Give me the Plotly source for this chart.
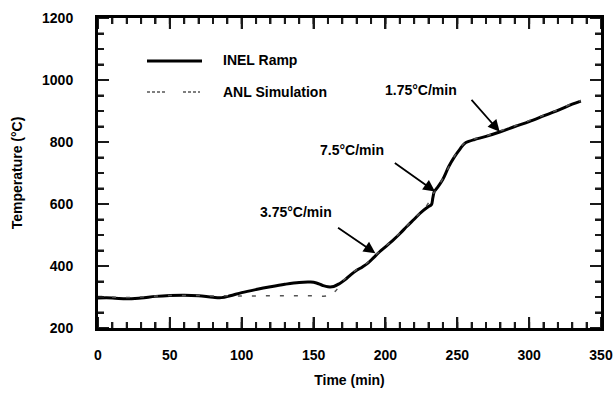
import plotly.graph_objects as go

# INEL ramp measurement (time in min, temperature in °C)
inel_time = [0, 10, 20, 30, 40, 50, 60, 70, 80, 86, 92, 100, 110, 120, 130, 140, 148, 152,
             156, 160, 164, 168, 172, 176, 180, 184, 188, 192, 196, 200, 205, 210, 215, 220,
             225, 230, 232, 233, 234, 236, 240, 244, 248, 252, 255, 258, 262, 270, 280, 290,
             300, 310, 320, 330, 336]
inel_temp = [297, 297, 294, 297, 302, 305, 306, 304, 299, 298, 304, 314, 324, 333, 341, 347, 348, 345,
             338, 333, 334, 343, 356, 372, 386, 397, 410, 428, 446, 462, 482, 504, 528, 551,
             574, 592, 598, 620, 640, 652, 680, 720, 752, 778, 795, 802, 808, 818, 833, 850,
             866, 884, 902, 922, 932]

# ANL simulation
anl_time = [0, 10, 20, 30, 40, 50, 60, 70, 80, 90, 100, 110, 120, 130, 140, 150, 160, 165,
            170, 175, 180, 186, 192, 198, 205, 212, 220, 228, 234, 240, 248, 255, 262, 270,
            280, 290, 300, 310, 320, 330, 336]
anl_temp = [302, 300, 298, 300, 303, 305, 305, 305, 303, 304, 303, 303, 304, 304, 304, 304, 304, 318,
            350, 372, 388, 405, 431, 455, 484, 515, 553, 590, 638, 682, 754, 796, 810, 820,
            836, 852, 869, 886, 904, 924, 934]

# Heating-rate callouts: label, label position, arrow tail, arrow head
rate_labels = ["3.75°C/min", "7.5°C/min", "1.75°C/min"]
label_pos = [(137.5, 574), (177, 774), (224.5, 968)]
arrow_tail = [(166, 527), (205.5, 736), (259, 941)]
arrow_head = [(193, 441), (234.5, 640), (279.5, 833)]

# Axis ticks
x_major = [0, 50, 100, 150, 200, 250, 300, 350]
y_major = [200, 400, 600, 800, 1000, 1200]
x_minor = list(range(0, 351, 10))
y_minor = list(range(200, 1201, 50))

X_RANGE = [0, 350]
Y_RANGE = [200, 1200]
W, H = 616, 397
MARGIN = dict(l=98, r=15, t=18, b=69)

FONT = "Liberation Sans, Arial, sans-serif"
TXT = dict(family=FONT, size=14, color="black", weight="bold")
TICK_COLOR = "#1a1a1a"

fig = go.Figure()

# Inward tick marks on all four sides, drawn as one line trace on the data axes
x_per_px = (X_RANGE[1] - X_RANGE[0]) / (W - MARGIN["l"] - MARGIN["r"])
y_per_px = (Y_RANGE[1] - Y_RANGE[0]) / (H - MARGIN["t"] - MARGIN["b"])
tick_x, tick_y = [], []
for vals, px in [(x_minor, 6), (x_major, 11)]:
    dy = px * y_per_px
    for v in vals:
        tick_x += [v, v, None, v, v, None]
        tick_y += [Y_RANGE[0], Y_RANGE[0] + dy, None, Y_RANGE[1], Y_RANGE[1] - dy, None]
for vals, px in [(y_minor, 6), (y_major, 11)]:
    dx = px * x_per_px
    for v in vals:
        tick_x += [X_RANGE[0], X_RANGE[0] + dx, None, X_RANGE[1], X_RANGE[1] - dx, None]
        tick_y += [v, v, None, v, v, None]
fig.add_trace(go.Scatter(x=tick_x, y=tick_y, mode="lines", hoverinfo="skip",
                         line=dict(color=TICK_COLOR, width=2), showlegend=False))

fig.add_trace(go.Scatter(x=inel_time, y=inel_temp, mode="lines", name="INEL Ramp",
                         line=dict(color="black", width=3), line_shape="spline"))
fig.add_trace(go.Scatter(x=anl_time, y=anl_temp, mode="lines", name="ANL Simulation",
                         line=dict(color="#555555", width=1.5, dash="4px,10px"),
                         line_shape="spline"))

for txt, (lx, ly), (tx, ty), (hx, hy) in zip(rate_labels, label_pos, arrow_tail, arrow_head):
    fig.add_annotation(x=lx, y=ly, text=txt, showarrow=False, font=TXT)
    fig.add_annotation(x=hx, y=hy, ax=tx, ay=ty, axref="x", ayref="y", text="",
                       showarrow=True, arrowhead=2, arrowsize=1.3, arrowwidth=1.8,
                       arrowcolor="black", standoff=0)

# Hand-placed legend
fig.add_shape(type="line", xref="paper", yref="paper",
              x0=(147 - 98) / 503, x1=(202 - 98) / 503,
              y0=(328 - 61) / 310, y1=(328 - 61) / 310,
              line=dict(color="black", width=3))
for a, b in [(147, 165), (183, 200)]:
    fig.add_shape(type="line", xref="paper", yref="paper",
                  x0=(a - 98) / 503, x1=(b - 98) / 503,
                  y0=(328 - 92) / 310, y1=(328 - 92) / 310,
                  line=dict(color="#555555", width=1.5, dash="3px,2px"))
fig.add_annotation(xref="paper", yref="paper", x=(221 - 98) / 503, y=(328 - 60) / 310,
                   xanchor="left", yanchor="middle", text="INEL Ramp", showarrow=False, font=TXT)
fig.add_annotation(xref="paper", yref="paper", x=(221 - 98) / 503, y=(328 - 92) / 310,
                   xanchor="left", yanchor="middle", text="ANL Simulation", showarrow=False,
                   font=TXT)

axis_common = dict(showgrid=False, zeroline=False, showline=True, linecolor="black",
                   linewidth=3, mirror="ticks", ticks="inside", ticklen=11, tickwidth=2,
                   tickcolor=TICK_COLOR, tickfont=TXT, automargin=False)

fig.update_layout(
    xaxis=dict(range=X_RANGE, dtick=50, ticklabelstandoff=12,
               minor=dict(ticks="inside", dtick=10, ticklen=6, tickcolor=TICK_COLOR),
               title=dict(text="Time (min)", font=TXT, standoff=14), **axis_common),
    yaxis=dict(range=Y_RANGE, dtick=200, ticklabelstandoff=19,
               minor=dict(ticks="inside", dtick=50, ticklen=6, tickcolor=TICK_COLOR),
               title=dict(text="Temperature (°C)", font=TXT, standoff=17), **axis_common),
    width=W, height=H, margin=MARGIN,
    paper_bgcolor="white", plot_bgcolor="white", showlegend=False,
)

fig.write_html("out.html")
